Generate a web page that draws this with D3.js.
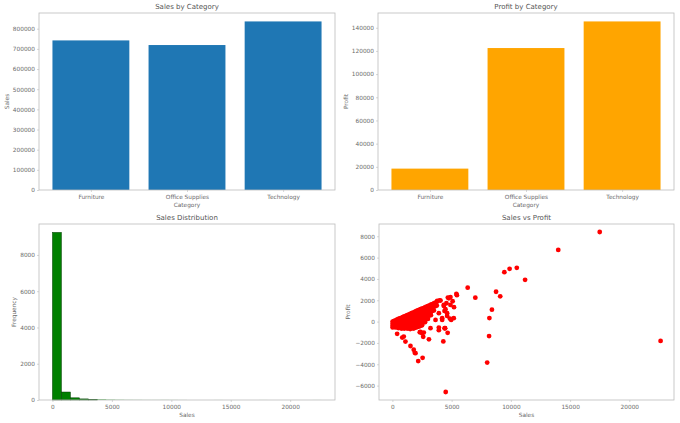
<!DOCTYPE html>
<html>
<head>
<meta charset="utf-8">
<script src="https://cdn.jsdelivr.net/npm/d3@7/dist/d3.min.js"></script>
<style>
  body { margin: 0; background: #fff; }
  svg { display: block; font-family: "DejaVu Sans", sans-serif; }
</style>
</head>
<body>
<svg id="chart" width="680" height="423"></svg>
<script>
// ---------- DATA ----------
const categories = ["Furniture", "Office Supplies", "Technology"];
const salesByCategory = [741999.8, 719047.0, 836154.0];
const profitByCategory = [18451.3, 122490.8, 145455.0];

const salesTicks = [0, 100000, 200000, 300000, 400000, 500000, 600000, 700000, 800000];
const profitTicks = [0, 20000, 40000, 60000, 80000, 100000, 120000, 140000];
const freqTicks = [0, 2000, 4000, 6000, 8000];
const histXTicks = [0, 5000, 10000, 15000, 20000];
const scatterYTicks = [-6000, -4000, -2000, 0, 2000, 4000, 6000, 8000];

// histogram: 30 equal bins between min and max sales
const histMin = 0.444;
const histMax = 22638.48;
const histCounts = [9245, 440, 120, 60, 38, 26, 14, 9, 6, 5, 3, 3, 4, 3, 2, 0, 0, 0, 1, 0, 0, 0, 0, 1, 0, 0, 0, 0, 0, 1];

// scatter: dense cluster
const clusterSales = [
  20, 20, 20, 20,
  125, 125, 125,
  250, 250, 250, 250,
  375, 375, 375, 375,
  500, 500, 500, 500, 500,
  625, 625, 625, 625,
  750, 750, 750, 750, 750,
  875, 875, 875, 875, 875,
  1000, 1000, 1000, 1000, 1000, 1000,
  1125, 1125, 1125, 1125, 1125,
  1250, 1250, 1250, 1250, 1250, 1250,
  1375, 1375, 1375, 1375, 1375, 1375,
  1500, 1500, 1500, 1500, 1500, 1500, 1500,
  1625, 1625, 1625, 1625, 1625, 1625,
  1750, 1750, 1750, 1750, 1750, 1750, 1750,
  1875, 1875, 1875, 1875, 1875, 1875, 1875,
  2000, 2000, 2000, 2000, 2000, 2000, 2000,
  2125, 2125, 2125, 2125, 2125, 2125, 2125,
  2250, 2250, 2250, 2250, 2250, 2250, 2250,
  2375, 2375, 2375, 2375, 2375, 2375, 2375,
  2500, 2500, 2500, 2500, 2500, 2500, 2500,
  2625, 2625, 2625, 2625, 2625, 2625,
  2750, 2750, 2750, 2750, 2750, 2750,
  2875, 2875, 2875, 2875, 2875,
  3000, 3000, 3000, 3000, 3000,
  3125, 3125, 3125, 3125,
  3250, 3250, 3250, 3250,
  3375, 3375, 3375,
  3500, 3500, 3500,
  3625, 3625,
  3750, 3750
];
const clusterProfit = [
  0, -200, -400, -550,
  50, -150, -350,
  120, -100, -300, -550,
  180, -50, -300, -500,
  250, 0, -250, -450, -600,
  300, 50, -200, -450,
  350, 100, -150, -400, -650,
  420, 150, -100, -350, -600,
  480, 250, 0, -250, -450, -650,
  540, 300, 50, -200, -450,
  600, 350, 100, -150, -400, -650,
  660, 400, 150, -100, -350, -600,
  730, 480, 200, -50, -300, -500, -700,
  790, 540, 250, 0, -250, -500,
  850, 600, 300, 50, -200, -450, -650,
  900, 650, 380, 120, -130, -380, -600,
  980, 700, 450, 200, -50, -300, -550,
  1040, 780, 500, 250, 0, -250, -500,
  1100, 850, 550, 300, 50, -200, -450,
  1160, 900, 620, 350, 100, -150, -400,
  1220, 950, 700, 400, 150, -100, -350,
  1270, 1000, 750, 450, 180, -80,
  1330, 1050, 800, 500, 200, -50,
  1390, 1100, 820, 520, 220,
  1450, 1150, 850, 550, 250,
  1510, 1200, 880, 580,
  1580, 1250, 900, 600,
  1640, 1330, 1000,
  1700, 1400, 1050,
  1770, 1450,
  1850, 1500
];
// scatter: individual orders away from the cluster
const outlierSales = [
  22638.48, 17499.95, 13999.96, 11199.97, 10499.97, 9892.74, 9449.95, 9099.93,
  8749.95, 8399.98, 8187.65, 8159.95, 7999.98, 6999.96, 6354.95, 5443.96,
  5399.91, 5199.96, 5083.96, 4899.93, 4760, 4680, 4560, 4499.99,
  4480, 4420, 4400, 4340, 4297.64, 4200, 4060, 3991.98,
  4620, 4850, 4960, 5180, 4620, 3920, 3640, 4200,
  3920, 3920, 4663.74, 4416.17, 4450, 3215, 3083.43, 2600,
  2549.99, 2177.58, 1950, 1889.99, 1799.99, 1525.19, 1100, 960,
  830, 400, 2510, 2370, 2650, 2310, 3780, 3490, 4340, 4900
];
const outlierProfit = [
  -1811.08, 8399.98, 6719.98, 3919.99, 5039.99, 4946.37, 4630.48, 2365.98,
  2799.98, 1119.99, 327.51, -1359.99, -3839.99, 2239.99, 3177.48, 2476.99,
  2591.96, 1351.99, 1906.49, 2302.97, 2190, 2250, 1720, -6599.98,
  1160, -620, 1000, 1470, -1862.31, 320, 1970, 1995.99,
  530, 280, 160, 320, 790, 790, 160, 160,
  -560, -800, -1049.34, -630.88, -620, -620, -1665.05, -1430,
  -3399.98, -3701.89, -2960, -2929.48, -2639.98, -2287.78, -1870, -1400,
  -1500, -1150, -1090, -970, -1030, -1000, 1940, 1630, 1560, 1560
];

// ---------- STYLE ----------
const C = {
  blue: "#1f77b4", orange: "#ffa500", green: "#008000", red: "#ff0000",
  text: "#6a6a6a", title: "#555555", spine: "#bcbcbc"
};
const FS_TICK = 5.8, FS_TITLE = 7;

const svg = d3.select("#chart");
svg.append("rect").attr("width", 680).attr("height", 423).attr("fill", "#fff");

function panel(box, xScale, yScale, xAxisGen, yAxisGen, opts) {
  const g = svg.append("g");
  opts.draw(g);
  g.append("rect")
    .attr("x", box.x0).attr("y", box.y0)
    .attr("width", box.x1 - box.x0).attr("height", box.y1 - box.y0)
    .attr("fill", "none").attr("stroke", C.spine).attr("stroke-width", 0.8);
  const gx = g.append("g").attr("transform", `translate(0,${box.y1})`).call(xAxisGen);
  const gy = g.append("g").attr("transform", `translate(${box.x0},0)`).call(yAxisGen);
  [gx, gy].forEach(a => {
    a.select(".domain").remove();
    a.selectAll("line").attr("stroke", C.spine).attr("stroke-width", 0.6);
    a.selectAll("text").attr("fill", C.text).attr("font-size", FS_TICK)
      .attr("font-family", "DejaVu Sans");
  });
  g.append("text").attr("x", (box.x0 + box.x1) / 2).attr("y", box.y0 - 3.6)
    .attr("text-anchor", "middle").attr("font-size", FS_TITLE).attr("fill", C.title)
    .text(opts.title);
  g.append("text").attr("x", (box.x0 + box.x1) / 2).attr("y", opts.xlabY)
    .attr("dy", "0.35em").attr("text-anchor", "middle").attr("font-size", FS_TICK)
    .attr("fill", C.text).text(opts.xlabel);
  const cy = (box.y0 + box.y1) / 2;
  g.append("text").attr("transform", `translate(${opts.ylabX},${cy}) rotate(-90)`)
    .attr("dy", "0.35em").attr("text-anchor", "middle").attr("font-size", FS_TICK)
    .attr("fill", C.text).text(opts.ylabel);
}

const fmt = d3.format("d");

// ---------- Panel 1: Sales by Category ----------
{
  const box = { x0: 39, x1: 335, y0: 13, y1: 190 };
  const x = d3.scaleLinear().domain([-0.54, 2.54]).range([box.x0, box.x1]);
  const y = d3.scaleLinear().domain([0, d3.max(salesByCategory) * 1.05]).range([box.y1, box.y0]);
  panel(box, x, y,
    d3.axisBottom(x).tickValues([0, 1, 2]).tickFormat(i => categories[i]).tickSize(2).tickPadding(2.5),
    d3.axisLeft(y).tickValues(salesTicks).tickFormat(fmt).tickSize(2).tickPadding(2),
    {
      title: "Sales by Category", xlabel: "Category", ylabel: "Sales", xlabY: 204.7, ylabX: 7,
      draw: g => g.selectAll("rect.bar").data(salesByCategory).join("rect")
        .attr("x", (d, i) => x(i - 0.4)).attr("width", (d, i) => x(i + 0.4) - x(i - 0.4))
        .attr("y", d => y(d)).attr("height", d => y(0) - y(d)).attr("fill", C.blue)
    });
}

// ---------- Panel 2: Profit by Category ----------
{
  const box = { x0: 378, x1: 674, y0: 13, y1: 190 };
  const x = d3.scaleLinear().domain([-0.54, 2.54]).range([box.x0, box.x1]);
  const y = d3.scaleLinear().domain([0, d3.max(profitByCategory) * 1.05]).range([box.y1, box.y0]);
  panel(box, x, y,
    d3.axisBottom(x).tickValues([0, 1, 2]).tickFormat(i => categories[i]).tickSize(2).tickPadding(2.5),
    d3.axisLeft(y).tickValues(profitTicks).tickFormat(fmt).tickSize(2).tickPadding(2),
    {
      title: "Profit by Category", xlabel: "Category", ylabel: "Profit", xlabY: 204.7, ylabX: 346,
      draw: g => g.selectAll("rect.bar").data(profitByCategory).join("rect")
        .attr("x", (d, i) => x(i - 0.4)).attr("width", (d, i) => x(i + 0.4) - x(i - 0.4))
        .attr("y", d => y(d)).attr("height", d => y(0) - y(d)).attr("fill", C.orange)
    });
}

// ---------- Panel 3: Sales Distribution ----------
{
  const box = { x0: 39, x1: 335, y0: 224, y1: 400 };
  const span = histMax - histMin;
  const x = d3.scaleLinear().domain([histMin - 0.05 * span, histMax + 0.05 * span]).range([box.x0, box.x1]);
  const y = d3.scaleLinear().domain([0, d3.max(histCounts) * 1.05]).range([box.y1, box.y0]);
  const bw = span / histCounts.length;
  const bins = histCounts.map((c, i) => ({ x0: histMin + i * bw, x1: histMin + (i + 1) * bw, c }));
  panel(box, x, y,
    d3.axisBottom(x).tickValues(histXTicks).tickFormat(fmt).tickSize(2).tickPadding(2.5),
    d3.axisLeft(y).tickValues(freqTicks).tickFormat(fmt).tickSize(2).tickPadding(2),
    {
      title: "Sales Distribution", xlabel: "Sales", ylabel: "Frequency", xlabY: 415, ylabX: 14,
      draw: g => g.selectAll("rect.bin").data(bins.filter(b => b.c > 0)).join("rect")
        .attr("x", b => x(b.x0)).attr("width", b => x(b.x1) - x(b.x0))
        .attr("y", b => y(b.c)).attr("height", b => y(0) - y(b.c))
        .attr("fill", C.green)
        .attr("stroke", b => (y(0) - y(b.c)) >= 0.5 ? "#003a00" : "none")
        .attr("stroke-width", 0.5)
    });
}

// ---------- Panel 4: Sales vs Profit ----------
{
  const box = { x0: 379, x1: 674, y0: 224, y1: 400 };
  const pts = clusterSales.map((s, i) => [s, clusterProfit[i]])
    .concat(outlierSales.map((s, i) => [s, outlierProfit[i]]));
  const sx = [histMin, d3.max(pts, p => p[0])];
  const sy = d3.extent(pts, p => p[1]);
  const x = d3.scaleLinear().domain([sx[0] - 0.05 * (sx[1] - sx[0]), sx[1] + 0.05 * (sx[1] - sx[0])]).range([box.x0, box.x1]);
  const y = d3.scaleLinear().domain([sy[0] - 0.05 * (sy[1] - sy[0]), sy[1] + 0.05 * (sy[1] - sy[0])]).range([box.y1, box.y0]);
  panel(box, x, y,
    d3.axisBottom(x).tickValues(histXTicks).tickFormat(fmt).tickSize(2).tickPadding(2.5),
    d3.axisLeft(y).tickValues(scatterYTicks).tickFormat(d3.format("d")).tickSize(2).tickPadding(2),
    {
      title: "Sales vs Profit", xlabel: "Sales", ylabel: "Profit", xlabY: 415, ylabX: 348,
      draw: g => g.selectAll("circle").data(pts).join("circle")
        .attr("cx", p => x(p[0])).attr("cy", p => y(p[1])).attr("r", 2.4)
        .attr("fill", C.red)
    });
}
</script>
</body>
</html>
